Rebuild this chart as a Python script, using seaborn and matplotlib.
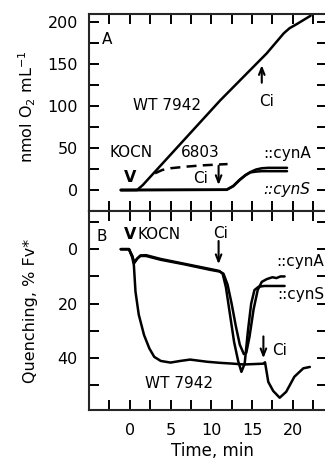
import matplotlib
matplotlib.use("Agg")
import matplotlib.pyplot as plt
import seaborn as sns
import pandas as pd

# panel A: O2 evolution (nmol O2 / mL) vs time (min)
tA_wt = [-1.1, 0.9, 1.6, 11.1, 16.8, 17.5, 18.9, 19.6, 20.5, 22.2]
yA_wt = [0, 0, 6, 107, 163, 171, 187, 193, 198, 208]
tA_6803 = [3.1, 4.0, 5.0, 7.0, 9.0, 12.0]
yA_6803 = [20, 24, 26, 28, 29.5, 31]
tA_cyna = [-1.1, 11.9, 12.7, 13.5, 14.2, 14.8, 15.5, 16.2, 17.0, 19.3]
yA_cyna = [0.3, 0.5, 5, 12.5, 18, 21.5, 24.5, 26, 26.5, 26.5]
tA_cyns = [-1.1, 11.9, 12.7, 13.5, 14.2, 14.8, 15.5, 16.2, 17.0, 19.3]
yA_cyns = [-0.3, 0.3, 4.5, 12, 17.5, 21, 22, 22.5, 22.5, 22.5]

# panel B: fluorescence quenching (% Fv*) vs time (min)
tB_wt = [-1.1, -0.1, 0.3, 0.5, 0.7, 1.1, 1.75, 2.4, 3.0, 3.8, 5.0, 6.2, 7.4, 9.5, 11.1,
         12.7, 14.0, 16.4, 16.6, 17.0, 17.6, 18.4, 19.2, 20.2, 21.3, 22.1]
qB_wt = [0, 0, 3, 5.8, 15.6, 24, 31.5, 36.4, 39.5, 41, 41.6, 41, 40.5, 41.3, 41.7,
         42, 42.3, 42, 41.5, 48.7, 52, 54.5, 52.3, 46.8, 43.7, 43.2]
tB_cyna = [-1.1, -0.1, 0.3, 0.55, 0.9, 1.3, 2.0, 3.8, 6.6, 9.9, 11.0, 11.5, 12.0, 12.5,
           13.0, 13.5, 14.0, 14.3, 14.7, 15.2, 15.7, 16.2, 16.8, 17.5, 18.0, 18.5, 19.0]
qB_cyna = [0, 0, 2.5, 5, 3.5, 2.5, 2.5, 3.9, 5.5, 7.6, 8.2, 9, 13, 20,
           28, 35, 38.5, 38, 32, 22, 15, 12, 11, 10.3, 10.6, 10, 10]
tB_cyns = [-1.1, -0.1, 0.3, 0.55, 0.9, 1.3, 2.0, 3.8, 6.6, 9.9, 11.0, 11.4, 11.8, 12.3,
           12.8, 13.3, 13.7, 14.1, 14.5, 14.9, 15.3, 15.8, 16.5, 19.0]
qB_cyns = [0, 0, 2.5, 5, 3.5, 2.3, 2.2, 3.6, 5.3, 7.3, 8.0, 9, 14, 24,
           34, 41, 45, 42, 30, 20, 15, 13.8, 13.5, 13.5]

sns.set_style("ticks")
plt.rcParams['font.family'] = ['DejaVu Sans']
plt.rcParams['mathtext.fontset'] = 'dejavusans'
plt.rcParams['axes.linewidth'] = 1.5
plt.rcParams['text.color'] = 'black'
plt.rcParams['axes.labelcolor'] = 'black'

fig = plt.figure(figsize=(3.25, 4.61), dpi=100)
axA = fig.add_axes([0.274, 0.5423, 0.732, 0.4273])
axB = fig.add_axes([0.274, 0.1106, 0.732, 0.4317])

lw = 1.8


def draw(ax, t, y, **kw):
    df = pd.DataFrame({"t": t, "y": y})
    sns.lineplot(data=df, x="t", y="y", ax=ax, color="black", lw=lw,
                 sort=False, estimator=None, **kw)


draw(axA, tA_wt, yA_wt)
draw(axA, tA_6803, yA_6803, linestyle=(0, (4, 2.5)))
draw(axA, tA_cyna, yA_cyna)
draw(axA, tA_cyns, yA_cyns)

draw(axB, tB_wt, qB_wt)
draw(axB, tB_cyna, qB_cyna)
draw(axB, tB_cyns, qB_cyns)

for ax in (axA, axB):
    ax.set_xlim(-5, 24.2)
    ax.set_xticks([-2.5 + 2.5 * i for i in range(11)])
    ax.tick_params(direction="in", length=7, width=1.4, top=True, right=True,
                   labelsize=11.5, colors="black")
    for s in ax.spines.values():
        s.set_linewidth(1.5)

axA.set_ylim(-25, 210)
axA.set_yticks(range(0, 201, 25))
axA.set_yticklabels(["0", "", "50", "", "100", "", "150", "", "200"])
axA.tick_params(axis="x", labelbottom=False)
axA.tick_params(axis="y", pad=8)
axA.set_xlabel("")
axA.set_ylabel("nmol O$_2$ mL$^{-1}$", fontsize=11.5)
axA.yaxis.set_label_coords(-0.215, 0.53)

axB.set_ylim(59, -14)
axB.set_yticks(range(-10, 51, 10))
axB.set_yticklabels(["", "0", "", "20", "", "40", ""])
axB.set_xticklabels(["", "0", "", "5", "", "10", "", "15", "", "20", ""])
axB.tick_params(axis="y", pad=8)
axB.tick_params(axis="x", pad=9)
axB.set_xlabel("Time, min", fontsize=12)
axB.xaxis.set_label_coords(0.52, -0.16)
axB.set_ylabel("Quenching, % Fv*", fontsize=11.5)
axB.yaxis.set_label_coords(-0.215, 0.5)

fs = 11
arrow = dict(arrowstyle="->,head_length=0.5,head_width=0.2", lw=1.5, color="black",
             shrinkA=0, shrinkB=0)

# panel A annotations
axA.text(-2.8, 180, "A", fontsize=fs, ha="center", va="center")
axA.text(4.6, 101, "WT 7942", fontsize=fs, ha="center", va="center")
axA.text(0.2, 45, "KOCN", fontsize=fs, ha="center", va="center")
axA.text(8.7, 45, "6803", fontsize=fs, ha="center", va="center")
axA.text(19.3, 44, "::cynA", fontsize=fs, ha="center", va="center")
axA.text(19.3, 1, "::cynS", fontsize=fs, ha="center", va="center", style="italic")
axA.text(0, 15, "V", fontsize=11.5, ha="center", va="center", fontweight="bold")
axA.text(8.7, 14, "Ci", fontsize=fs, ha="center", va="center")
axA.annotate("", xy=(10.9, 6), xytext=(10.9, 29), arrowprops=arrow)
axA.annotate("", xy=(16.2, 149), xytext=(16.2, 128), arrowprops=arrow)
axA.text(16.8, 106, "Ci", fontsize=fs, ha="center", va="center")

# panel B annotations
axB.text(-3.5, -4.6, "B", fontsize=fs, ha="center", va="center")
axB.text(0, -5.3, "V", fontsize=11.5, ha="center", va="center", fontweight="bold")
axB.text(1.0, -5.3, "KOCN", fontsize=fs, ha="left", va="center")
axB.text(11.1, -5.6, "Ci", fontsize=fs, ha="center", va="center")
axB.annotate("", xy=(10.9, 5.5), xytext=(10.9, -3), arrowprops=arrow)
axB.text(23.85, 4.5, "::cynA", fontsize=fs, ha="right", va="center")
axB.text(23.85, 16.8, "::cynS", fontsize=fs, ha="right", va="center")
axB.annotate("", xy=(16.4, 40), xytext=(16.4, 32), arrowprops=arrow)
axB.text(18.4, 37, "Ci", fontsize=fs, ha="center", va="center")
axB.text(6.0, 49.3, "WT 7942", fontsize=fs, ha="center", va="center")

fig.savefig("out.png", dpi=100)
